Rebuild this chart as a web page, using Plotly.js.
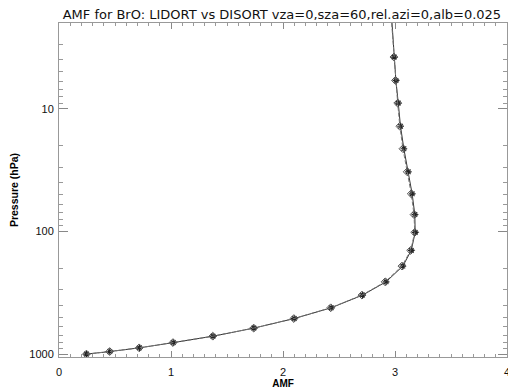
<!DOCTYPE html>
<html>
<head>
<meta charset="utf-8">
<script src="https://cdn.plot.ly/plotly-3.0.1.min.js"></script>
<style>html,body{margin:0;padding:0;background:#fff;}#plot{width:508px;height:389px;}</style>
</head>
<body>
<div id="plot"></div>
<script>
// Pressure levels (hPa)
var pressure = [1.6, 3.79, 5.88, 9.0, 13.9, 21.2, 32.7, 49.4, 73, 102, 143, 192, 258, 331, 420, 514, 615, 716, 807, 891, 955, 1002];
// LIDORT air mass factors
var amfLidort = [2.966, 2.993, 3.008, 3.029, 3.049, 3.079, 3.118, 3.153, 3.177, 3.180, 3.145, 3.070, 2.920, 2.710, 2.430, 2.100, 1.740, 1.375, 1.020, 0.718, 0.453, 0.245];
// DISORT air mass factors
var amfDisort = [2.962, 2.990, 3.004, 3.024, 3.043, 3.071, 3.109, 3.145, 3.170, 3.176, 3.140, 3.062, 2.912, 2.705, 2.426, 2.097, 1.738, 1.373, 1.018, 0.716, 0.452, 0.245];
var xTickVals = [0, 1, 2, 3, 4];
var yTickVals = [10, 100, 1000];
var yTickText = ['10', '100', '1000'];

var traces = [
  {x: amfLidort, y: pressure, type: 'scatter', mode: 'lines+markers', name: 'LIDORT',
   line: {color: '#333333', width: 1, dash: 'solid'},
   marker: {symbol: 'asterisk-open', size: 5.5, color: '#222222', line: {width: 1.2, color: '#222222'}}},
  {x: amfDisort, y: pressure, type: 'scatter', mode: 'lines+markers', name: 'DISORT',
   line: {color: '#777777', width: 1, dash: '4px,2px'},
   marker: {symbol: 'diamond-open', size: 6, color: '#555555', line: {width: 1, color: '#555555'}}}
];

var font = 'Liberation Sans, Arial, Helvetica, sans-serif';
var layout = {
  width: 508, height: 389,
  margin: {l: 59, r: 1, t: 23, b: 32, pad: 0},
  paper_bgcolor: '#ffffff', plot_bgcolor: '#ffffff',
  showlegend: false,
  font: {family: font, color: '#111111', size: 11},
  title: {text: 'AMF for BrO: LIDORT vs DISORT vza=0,sza=60,rel.azi=0,alb=0.025',
          font: {family: 'DejaVu Sans, sans-serif', size: 13, color: '#111111'},
          x: 0.555, xanchor: 'center', y: 0.963, yanchor: 'middle'},
  xaxis: {
    range: [0, 4], tickvals: xTickVals, ticktext: xTickVals.map(String),
    ticks: 'inside', ticklen: 6, tickwidth: 1, tickcolor: '#888888',
    showline: true, linecolor: '#999999', linewidth: 1, mirror: 'ticks',
    showgrid: false, zeroline: false,
    tickfont: {size: 11, color: '#111111'},
    ticklabelstandoff: 5, ticklabeloverflow: 'allow',
    minor: {dtick: 0.1, ticks: 'inside', ticklen: 3, tickcolor: '#999999', tickwidth: 1, showgrid: false},
    title: {text: '<b>AMF</b>', font: {size: 10, color: '#000000'}, standoff: 1}
  },
  yaxis: {
    type: 'log', autorange: false, range: [Math.log10(1058), Math.log10(2)],
    tickvals: yTickVals, ticktext: yTickText,
    ticks: 'inside', ticklen: 9, tickwidth: 1, tickcolor: '#888888',
    showline: true, linecolor: '#999999', linewidth: 1, mirror: 'ticks',
    showgrid: false, zeroline: false,
    tickfont: {size: 11, color: '#111111'},
    ticklabelstandoff: 2,
    minor: {dtick: 'D1', ticks: 'inside', ticklen: 4, tickcolor: '#999999', tickwidth: 1, showgrid: false},
    title: {text: '<b>Pressure (hPa)</b>', font: {size: 10.5, color: '#000000'}, standoff: 8}
  }
};

Plotly.newPlot('plot', traces, layout, {staticPlot: true, displayModeBar: false});
</script>
</body>
</html>
